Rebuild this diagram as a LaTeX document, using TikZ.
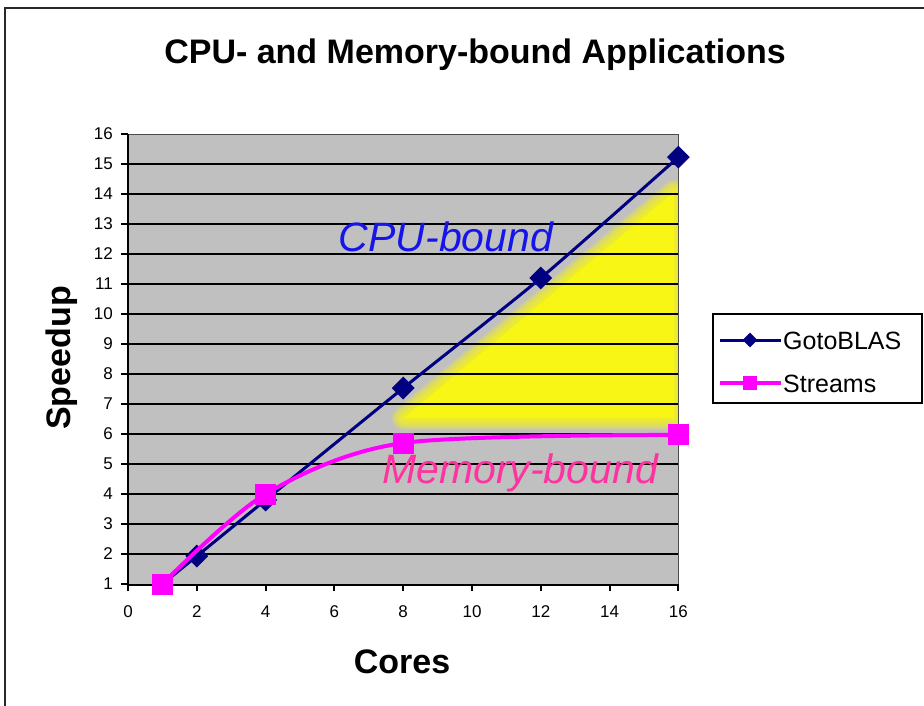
\documentclass[tikz,border=0pt]{standalone}
\usepackage{fontspec}
\setmainfont{Liberation Sans}
\usetikzlibrary{shapes.geometric}
\definecolor{plotgray}{RGB}{192,192,192}
\definecolor{navyc}{RGB}{0,0,128}
\definecolor{magc}{RGB}{255,0,255}
\definecolor{glow}{RGB}{248,246,20}
\definecolor{cpublue}{RGB}{20,20,235}
\definecolor{mempink}{RGB}{255,51,160}
\definecolor{framec}{RGB}{40,40,40}
\begin{document}
\begin{tikzpicture}[x=1pt,y=-1pt,
  diam/.style={diamond, fill=navyc, inner sep=0pt, minimum width=23pt, minimum height=23pt},
  sq/.style={rectangle, fill=magc, inner sep=0pt, minimum size=21pt},
  ldiam/.style={diamond, fill=navyc, inner sep=0pt, minimum width=15pt, minimum height=15pt},
  lsq/.style={rectangle, fill=magc, inner sep=0pt, minimum size=14pt},
  gline/.style={navyc, line width=3pt, line join=round},
  sline/.style={magc, line width=4pt, line join=round},
  bigbold/.style={font=\fontsize{34}{40}\selectfont\bfseries},
  ticklab/.style={font=\fontsize{17}{20}\selectfont, inner sep=0pt},
  anno/.style={font=\fontsize{41}{48}\selectfont\itshape, inner sep=0pt},
  legtext/.style={font=\fontsize{25}{30}\selectfont, anchor=west, inner sep=0pt},
  gridl/.style={black, line width=2pt},
]
\useasboundingbox (0,0) rectangle (924,705);
\fill[white] (0,0) rectangle (924,705);
\draw[framec, line width=2pt] (5,710) -- (5,8) -- (930,8);

% title
\node[bigbold] (title) at (475,55) {CPU- and Memory-bound Applications};

% plot area
\fill[plotgray] (128,134) rectangle (678,584);
\begin{scope}
  \clip (128,134) rectangle (678,584);
  \foreach \k in {1,...,8}{
    \draw[glow, opacity=0.2, line width=3*\k pt, line join=round, fill=glow]
      (404,418) -- (674,192) -- (674,418) -- cycle;
  }
  \fill[glow] (404,418) -- (674,192) -- (674,418) -- cycle;
\end{scope}
\foreach \v in {2,...,15}{
  \draw[gridl] (128,614-30*\v) -- (678,614-30*\v);
}
\draw[gray!60!black, line width=1pt] (128,134) -- (678,134) -- (678,584);
\draw[black, line width=2pt] (128,134) -- (128,585) -- (678,585);
\foreach \v in {1,...,16}{
  \draw[black, line width=2pt] (121,614-30*\v) -- (128,614-30*\v);
  \node[ticklab, anchor=east] (yl\v) at (113,614-30*\v) {\v};
}
\foreach \v in {0,2,...,16}{
  \draw[black, line width=2pt] (128+34.4*\v,584) -- (128+34.4*\v,591);
  \node[ticklab] (xl\v) at (128+34.4*\v,612) {\v};
}

% axis titles
\node[bigbold, rotate=90] (ylab) at (62,358) {Speedup};
\node[bigbold] (xlab) at (402,662) {Cores};

% data
\begin{scope}[x=34.4pt, y=30pt, shift={(128pt,-614pt)}]
  \coordinate (g1) at (1,1);
  \coordinate (g2) at (2,1.93);
  \coordinate (g4) at (4,3.8);
  \coordinate (g8) at (8,7.53);
  \coordinate (g12) at (12,11.2);
  \coordinate (g16) at (16,15.23);
  \coordinate (s1) at (1,1);
  \coordinate (s4) at (4,4);
  \coordinate (s8) at (8,5.7);
  \coordinate (s16) at (16,5.97);
\end{scope}
\draw[gline] plot[smooth, tension=0.4] coordinates {(g1) (g2) (g4) (g8) (g12) (g16)};
\foreach \p in {g2,g4,g8,g12,g16}{ \node[diam] (m\p) at (\p) {}; }
\draw[sline] plot[smooth, tension=0.5] coordinates {(s1) (s4) (s8) (s16)};
\foreach \p in {s1,s4,s8,s16}{ \node[sq] (m\p) at (\p) {}; }

% annotations
\node[anno, text=cpublue] (cpu) at (446,237) {CPU-bound};
\node[anno, text=mempink] (mem) at (520,473) {Memory-bound};

% legend
\draw[black, line width=1.5pt, fill=white] (713,314) rectangle (922,403);
\coordinate (la1) at (720,340);
\coordinate (lb1) at (781,340);
\coordinate (la2) at (720,383);
\coordinate (lb2) at (781,383);
\draw[gline] (la1) -- (lb1);
\node[ldiam] (lm1) at (750,340) {};
\draw[sline] (la2) -- (lb2);
\node[lsq] (lm2) at (750,383) {};
\node[legtext] (lt1) at (783,341) {GotoBLAS};
\node[legtext] (lt2) at (783,384) {Streams};
\end{tikzpicture}
\end{document}
